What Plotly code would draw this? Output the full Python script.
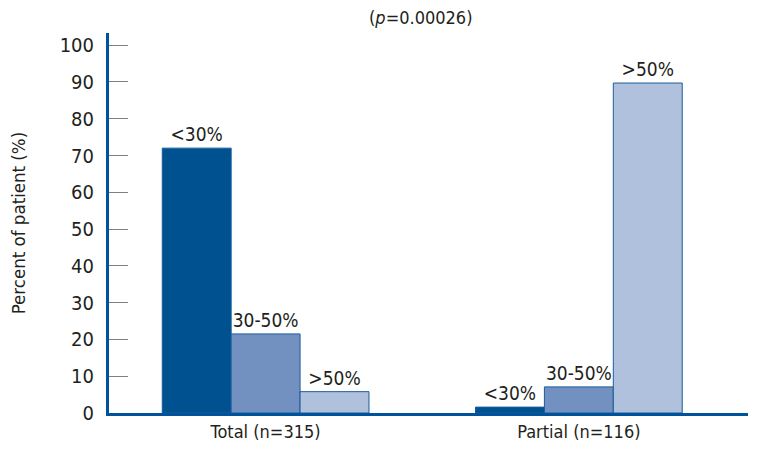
import plotly.graph_objects as go

# data
groups = ["Total (n=315)", "Partial (n=116)"]
lt30 = [72, 1.6]
mid = [21.5, 7.1]
gt50 = [5.8, 89.7]
series_names = ["<30%", "30-50%", ">50%"]
y_ticks = [0, 10, 20, 30, 40, 50, 60, 70, 80, 90, 100]

COLORS = ["#00518f", "#7391c0", "#b0c1de"]
BORDER = "#1d5b9b"
AXIS = "#00539a"
TEXT = "#231f20"
FONT = "DejaVu Sans Condensed, Roboto, sans-serif"

fig = go.Figure()
for name, vals, col in zip(series_names, [lt30, mid, gt50], COLORS):
    fig.add_trace(go.Bar(
        x=groups, y=vals, name=name,
        marker=dict(color=col, line=dict(color=BORDER, width=1)),
        text=[name] * len(vals), textposition="outside",
        constraintext="none",
        textfont=dict(family=FONT, size=19, color=TEXT),
        cliponaxis=False,
    ))

# page body has an 8px margin, so the figure is 8px smaller each way
fig.update_layout(
    width=750, height=441,
    paper_bgcolor="white", plot_bgcolor="white",
    font=dict(family=FONT, color=TEXT, size=19),
    margin=dict(l=101, r=10, t=25, b=36),
    barmode="group", bargap=0.34, bargroupgap=0,
    showlegend=False,
    xaxis=dict(
        range=[-0.5, 1.54], showline=True, linecolor=AXIS, linewidth=3,
        ticks="", showgrid=False, tickfont=dict(size=18), automargin=False,
    ),
    yaxis=dict(
        range=[0, 103.3], tickvals=y_ticks, showline=True, linecolor=AXIS,
        linewidth=3, ticks="inside", ticklen=19, tickcolor="#808080",
        tickwidth=1, showgrid=False, zeroline=False, ticklabelstandoff=8,
        tickfont=dict(size=20), automargin=False,
    ),
    annotations=[
        dict(text="(<i>p</i>=0.00026)", xref="paper", yref="paper",
             x=0.487, y=1.042, showarrow=False, xanchor="center",
             yanchor="middle", font=dict(size=18)),
        dict(text="Percent of patient (%)", xref="paper", yref="paper",
             x=-0.142, y=0.5, textangle=-90, showarrow=False,
             xanchor="center", yanchor="middle", font=dict(size=18.5)),
    ],
)

fig.write_html("out.html")
